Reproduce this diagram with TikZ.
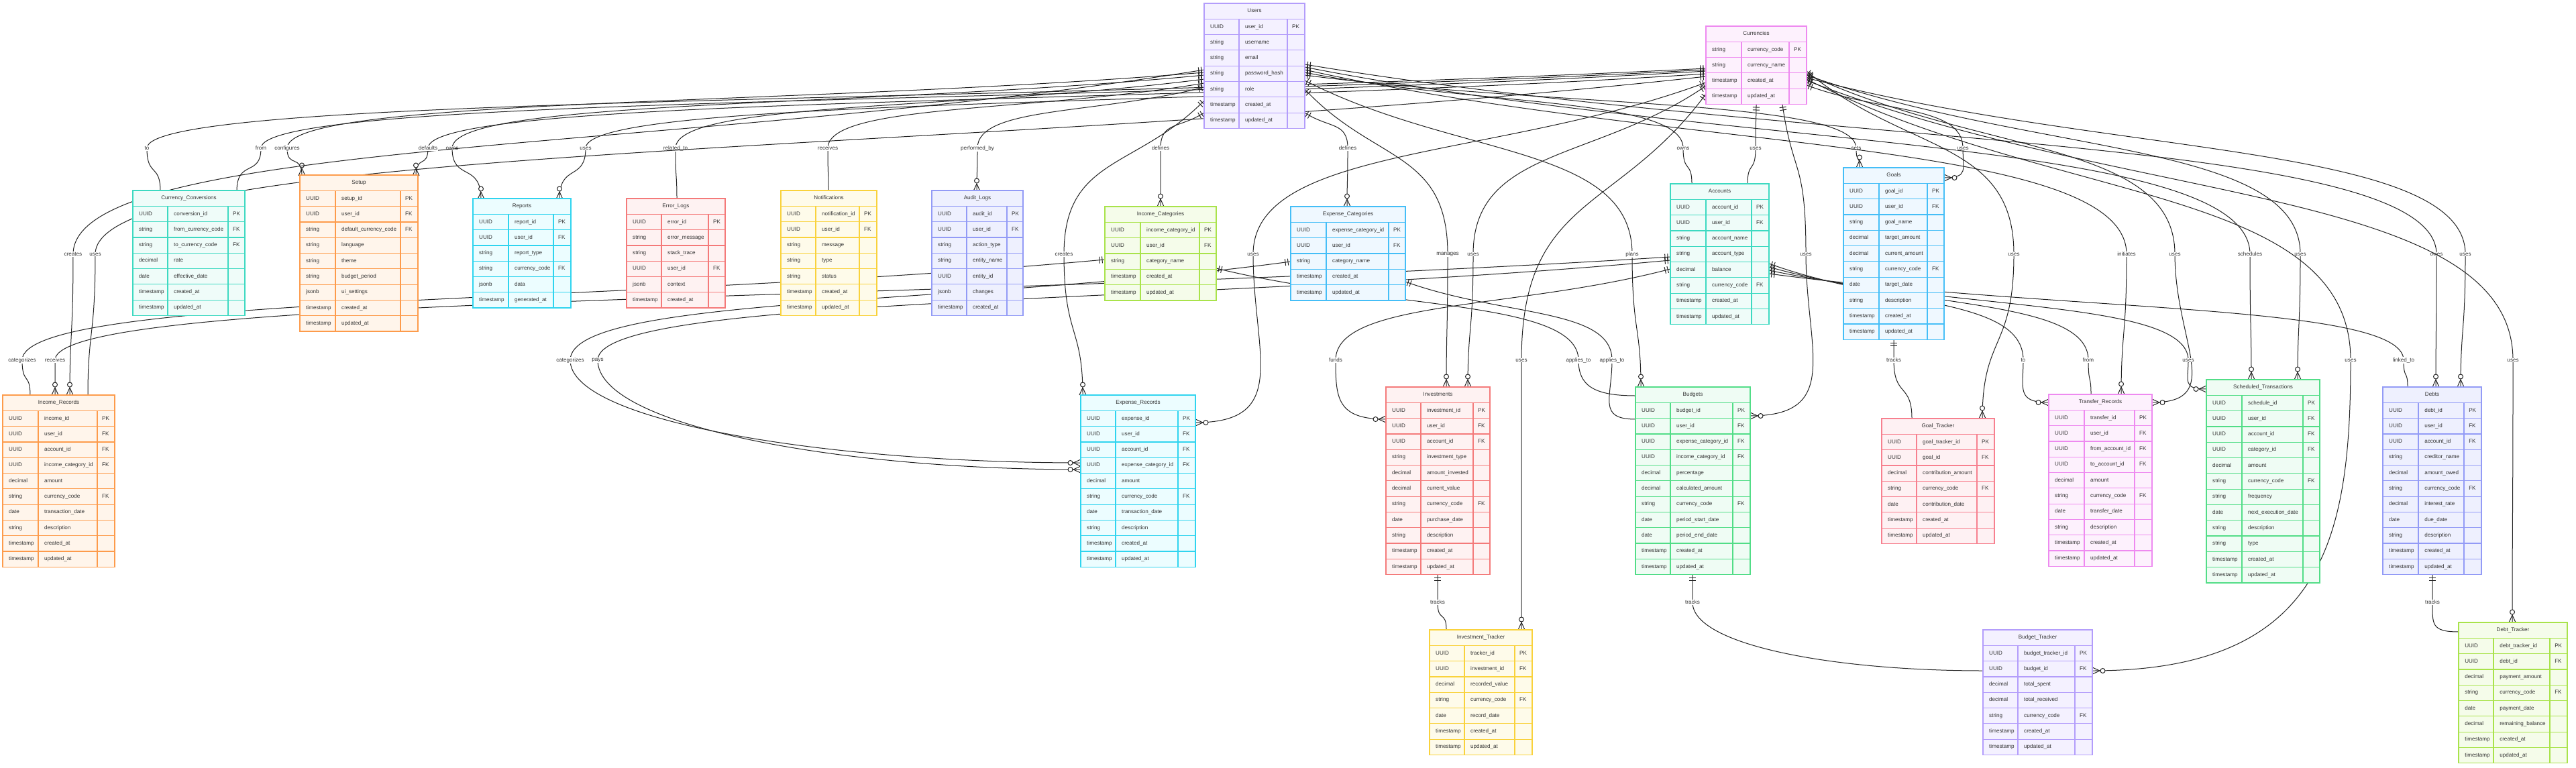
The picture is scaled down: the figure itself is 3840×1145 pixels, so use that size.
\documentclass[tikz,border=0pt]{standalone}
\usepackage{fontspec}
\setmainfont{Liberation Sans}
\usetikzlibrary{calc,decorations.markings}
\definecolor{txt}{HTML}{333333}
\definecolor{edgec}{HTML}{222222}
\definecolor{cpur}{HTML}{B39DFB}\definecolor{cpurbg}{HTML}{F4F1FF}
\definecolor{cmag}{HTML}{EE8AF0}\definecolor{cmagbg}{HTML}{FDF1FD}
\definecolor{ctea}{HTML}{3DD9C1}\definecolor{cteabg}{HTML}{EFFCF9}
\definecolor{corg}{HTML}{FD9B4B}\definecolor{corgbg}{HTML}{FFF5EB}
\definecolor{ccya}{HTML}{2FD4EF}\definecolor{ccyabg}{HTML}{ECFDFF}
\definecolor{crdd}{HTML}{F47A7A}\definecolor{crddbg}{HTML}{FEF2F2}
\definecolor{cyel}{HTML}{F9D23C}\definecolor{cyelbg}{HTML}{FEFBEA}
\definecolor{cind}{HTML}{939BF6}\definecolor{cindbg}{HTML}{EEF0FE}
\definecolor{clim}{HTML}{A9E34B}\definecolor{climbg}{HTML}{F5FCEA}
\definecolor{csky}{HTML}{45BEF7}\definecolor{cskybg}{HTML}{EFF8FF}
\definecolor{cgrn}{HTML}{52DD87}\definecolor{cgrnbg}{HTML}{EFFCF4}
\definecolor{cpnk}{HTML}{F7808F}\definecolor{cpnkbg}{HTML}{FEF1F3}
\tikzset{
  tbox/.style={inner sep=0pt, outer sep=0pt, anchor=north west},
  cell/.style={anchor=west, inner sep=0pt, text=txt, font=\fontsize{8.1pt}{9pt}\selectfont, text height=5.9pt, text depth=1.7pt},
  lbl/.style={fill=white, inner sep=1.2pt, text=txt, font=\fontsize{8.1pt}{9pt}\selectfont},
  relline/.style={line width=1pt, draw=edgec, postaction={decorate}, decoration={markings,
    mark=at position 4pt with {\draw[line width=1pt,edgec] (0pt,-5pt)--(0pt,5pt);},
    mark=at position 8pt with {\draw[line width=1pt,edgec] (0pt,-5pt)--(0pt,5pt);},
    mark=at position 1 with {\draw[line width=1pt,edgec] (-11pt,0pt)--(0pt,5pt) (-11pt,0pt)--(0pt,-5pt);
      \draw[line width=1pt,edgec,fill=white] (-15.5pt,0pt) circle[radius=3.5pt];}}}
}
\newcommand\ertable[9]{%
  \foreach \ty/\nm/\ky [count=\i] in {#9} {\xdef\nrows{\i}}%
  \pgfmathsetlengthmacro\ertw{#5-#2}%
  \pgfmathsetlengthmacro\erth{(\nrows+1)*23.3}%
  \node[tbox, fill=#7bg, minimum width=\ertw, minimum height=\erth] (#1) at (#2,-#6) {};
  \foreach \k in {1,...,\nrows} {\draw[#7, line width=1.2pt] (#2,{-#6-\k*23.3}) -- (#5,{-#6-\k*23.3});}
  \pgfmathsetmacro\erya{-#6-23.3}%
  \pgfmathsetmacro\eryb{-#6-(\nrows+1)*23.3}%
  \draw[#7, line width=1.2pt] (#3,\erya) -- (#3,\eryb) (#4,\erya) -- (#4,\eryb);
  \node[cell, anchor=center] (#1-h) at ({(#2+#5)/2},{-#6-11.65}) {#8};
  \foreach \ty/\nm/\ky [count=\i] in {#9} {%
    \node[cell] (#1-\i-a) at ({#2+9},{-#6-(\i+0.5)*23.3}) {\ty};
    \node[cell] (#1-\i-b) at ({#3+9},{-#6-(\i+0.5)*23.3}) {\nm};
    \node[cell] (#1-\i-c) at ({#4+7},{-#6-(\i+0.5)*23.3}) {\ky};
  }%
  \draw[#7, line width=1.5pt] (#1.north west) rectangle (#1.south east);
}
% #1 id, #2 source point, #3 source side angle, #4 label point, #5 label, #6 target point, #7 target approach angle
\newcommand\erel[7]{%
  \coordinate (#1s) at (#2);
  \coordinate (#1l) at (#4);
  \coordinate (#1t) at (#6);
  \coordinate (#1a) at ($(#1s)+(#3:14)$);
  \draw[relline] let \p1=(#1s), \p2=(#1l), \p3=(#1t),
     \n2={0.6*abs(\y2-\y1)+8},
     \n3={0.55*abs(\y3-\y2)+8},
     \n4={0.4*abs(\x3-\x2)+0.4*abs(\y3-\y2)+8}
   in (#1s) .. controls ($(#1a)!0.45!(#1l)$) and ($(#1l)+(0,\n2)$) .. (#1l)
      .. controls ($(#1l)+(0,-\n3)$) and ($(#1t)+(#7:\n4)$) .. (#1t);
  \node[lbl] (#1) at (#1l) {#5};
}
\begin{document}
\begin{tikzpicture}[x=1pt,y=1pt]
\fill[white] (0,0) rectangle (3840,-1145);
\useasboundingbox (0,0) rectangle (3840,-1145);
% ---------- relationships ----------
\erel{u1}{1795,-108}{180}{428,-221}{configures}{450,-262}{90}
\erel{u2}{1795,-112}{180}{674,-221}{owns}{717,-297}{90}
\erel{u3}{1795,-118}{180}{1007,-221}{related\_to}{1009,-297}{90}
\erel{u4}{1795,-124}{180}{1234,-221}{receives}{1235,-285}{90}
\erel{u5}{1795,-130}{180}{1457,-221}{performed\_by}{1456,-285}{90}
\erel{u6}{1795,-168}{180}{1730,-221}{defines}{1730,-308}{90}
\erel{u7}{1795,-104}{180}{109,-379}{creates}{104,-589}{90}
\erel{u8}{1795,-150}{180}{1586,-379}{creates}{1614,-589}{90}
\erel{u9}{1945,-168}{0}{2009,-221}{defines}{2008,-308}{90}
\erel{u10}{1945,-108}{0}{2509,-221}{owns}{2522,-274}{90}
\erel{u11}{1945,-112}{0}{2767,-221}{sets}{2772,-250}{90}
\erel{u12}{1945,-133}{0}{2158,-379}{manages}{2156,-577}{90}
\erel{u13}{1945,-120}{0}{2433,-379}{plans}{2446,-577}{90}
\erel{u14}{1945,-104}{0}{3170,-379}{initiates}{3162,-588}{90}
\erel{u15}{1945,-100}{0}{3354,-379}{schedules}{3356,-566}{90}
\erel{u16}{1945,-96}{0}{3632,-379}{owes}{3631,-577}{90}
\erel{c1}{2543,-102}{180}{219,-221}{to}{239,-285}{90}
\erel{c2}{2543,-104}{180}{389,-221}{from}{353,-285}{90}
\erel{c3}{2543,-106}{180}{638,-221}{defaults}{620,-262}{90}
\erel{c4}{2543,-110}{180}{873,-221}{uses}{834,-297}{90}
\erel{c5}{2543,-114}{180}{142,-379}{uses}{131,-589}{90}
\erel{c6}{2543,-123}{180}{1868,-379}{uses}{1782,-630}{0}
\erel{c7}{2543,-128}{180}{2196,-379}{uses}{2188,-577}{90}
\erel{c8}{2543,-140}{180}{2268,-537}{uses}{2268,-939}{90}
\erel{c9}{2618,-156}{-90}{2617,-221}{uses}{2605,-274}{90}
\erel{c10}{2657,-156}{-90}{2692,-379}{uses}{2609,-620}{0}
\erel{c11}{2693,-127}{0}{2926,-221}{uses}{2898,-265}{0}
\erel{c12}{2693,-106}{0}{3002,-379}{uses}{2955,-624}{90}
\erel{c13}{2693,-110}{0}{3242,-379}{uses}{3208,-600}{0}
\erel{c14}{2693,-112}{0}{3429,-379}{uses}{3425,-566}{90}
\erel{c15}{2693,-116}{0}{3675,-379}{uses}{3668,-577}{90}
\erel{c16}{2693,-118}{0}{3504,-537}{uses}{3119,-1000}{0}
\erel{c17}{2693,-120}{0}{3746,-537}{uses}{3745,-928}{90}
\erel{a1}{2490,-383}{180}{82,-537}{receives}{82,-589}{90}
\erel{a2}{2490,-388}{180}{891,-537}{pays}{1611,-700}{180}
\erel{a3}{2490,-401}{180}{1991,-537}{funds}{2066,-625}{180}
\erel{a4}{2637,-393}{0}{3016,-537}{to}{3054,-600}{180}
\erel{a5}{2637,-398}{0}{3113,-537}{from}{3117,-588}{90}
\erel{a6}{2637,-403}{0}{3262,-537}{uses}{3289,-580}{180}
\erel{a7}{2637,-408}{0}{3583,-537}{linked\_to}{3589,-577}{90}
\erel{i1}{1647,-387}{180}{33,-537}{categorizes}{45,-589}{90}
\erel{i2}{1813,-400}{0}{2353,-537}{applies\_to}{2438,-590}{180}
\erel{e1}{1924,-390}{180}{850,-537}{categorizes}{1611,-690}{180}
\erel{e2}{2095,-420}{0}{2403,-537}{applies\_to}{2438,-625}{180}
\erel{g1}{2823,-507}{-90}{2823,-537}{tracks}{2850,-624}{90}
\erel{v1}{2143,-857}{-90}{2143,-898}{tracks}{2156,-939}{90}
\erel{b1}{2523,-857}{-90}{2523,-898}{tracks}{2956,-1000}{180}
\erel{d1}{3626,-857}{-90}{3626,-898}{tracks}{3665,-942}{180}
% ---------- tables ----------
\ertable{users}{1795}{1847}{1919}{1945}{5}{cpur}{Users}{UUID/user\_id/PK, string/username/{}, string/email/{}, string/password\_hash/{}, string/role/{}, timestamp/created\_at/{}, timestamp/updated\_at/{}}
\ertable{currencies}{2543}{2596}{2667}{2693}{39}{cmag}{Currencies}{string/currency\_code/PK, string/currency\_name/{}, timestamp/created\_at/{}, timestamp/updated\_at/{}}
\ertable{conv}{198}{250}{340}{365}{284}{ctea}{Currency\_Conversions}{UUID/conversion\_id/PK, string/from\_currency\_code/FK, string/to\_currency\_code/FK, decimal/rate/{}, date/effective\_date/{}, timestamp/created\_at/{}, timestamp/updated\_at/{}}
\ertable{setup}{447}{500}{597}{623}{261}{corg}{Setup}{UUID/setup\_id/PK, UUID/user\_id/FK, string/default\_currency\_code/FK, string/language/{}, string/theme/{}, string/budget\_period/{}, jsonb/ui\_settings/{}, timestamp/created\_at/{}, timestamp/updated\_at/{}}
\ertable{reports}{705}{758}{825}{851}{296}{ccya}{Reports}{UUID/report\_id/PK, UUID/user\_id/FK, string/report\_type/{}, string/currency\_code/FK, jsonb/data/{}, timestamp/generated\_at/{}}
\ertable{errors}{934}{986}{1056}{1081}{296}{crdd}{Error\_Logs}{UUID/error\_id/PK, string/error\_message/{}, string/stack\_trace/{}, UUID/user\_id/FK, jsonb/context/{}, timestamp/created\_at/{}}
\ertable{notif}{1164}{1216}{1281}{1307}{284}{cyel}{Notifications}{UUID/notification\_id/PK, UUID/user\_id/FK, string/message/{}, string/type/{}, string/status/{}, timestamp/created\_at/{}, timestamp/updated\_at/{}}
\ertable{audit}{1389}{1441}{1501}{1525}{284}{cind}{Audit\_Logs}{UUID/audit\_id/PK, UUID/user\_id/FK, string/action\_type/{}, string/entity\_name/{}, UUID/entity\_id/{}, jsonb/changes/{}, timestamp/created\_at/{}}
\ertable{inccat}{1647}{1700}{1788}{1813}{308}{clim}{Income\_Categories}{UUID/income\_category\_id/PK, UUID/user\_id/FK, string/category\_name/{}, timestamp/created\_at/{}, timestamp/updated\_at/{}}
\ertable{expcat}{1924}{1977}{2070}{2095}{308}{csky}{Expense\_Categories}{UUID/expense\_category\_id/PK, UUID/user\_id/FK, string/category\_name/{}, timestamp/created\_at/{}, timestamp/updated\_at/{}}
\ertable{accounts}{2490}{2543}{2611}{2637}{274}{ctea}{Accounts}{UUID/account\_id/PK, UUID/user\_id/FK, string/account\_name/{}, string/account\_type/{}, decimal/balance/{}, string/currency\_code/FK, timestamp/created\_at/{}, timestamp/updated\_at/{}}
\ertable{goals}{2748}{2801}{2873}{2898}{250}{csky}{Goals}{UUID/goal\_id/PK, UUID/user\_id/FK, string/goal\_name/{}, decimal/target\_amount/{}, decimal/current\_amount/{}, string/currency\_code/FK, date/target\_date/{}, string/description/{}, timestamp/created\_at/{}, timestamp/updated\_at/{}}
\ertable{increc}{4}{57}{145}{171}{589}{corg}{Income\_Records}{UUID/income\_id/PK, UUID/user\_id/FK, UUID/account\_id/FK, UUID/income\_category\_id/FK, decimal/amount/{}, string/currency\_code/FK, date/transaction\_date/{}, string/description/{}, timestamp/created\_at/{}, timestamp/updated\_at/{}}
\ertable{exprec}{1611}{1663}{1756}{1782}{589}{ccya}{Expense\_Records}{UUID/expense\_id/PK, UUID/user\_id/FK, UUID/account\_id/FK, UUID/expense\_category\_id/FK, decimal/amount/{}, string/currency\_code/FK, date/transaction\_date/{}, string/description/{}, timestamp/created\_at/{}, timestamp/updated\_at/{}}
\ertable{invest}{2066}{2118}{2196}{2221}{577}{crdd}{Investments}{UUID/investment\_id/PK, UUID/user\_id/FK, UUID/account\_id/FK, string/investment\_type/{}, decimal/amount\_invested/{}, decimal/current\_value/{}, string/currency\_code/FK, date/purchase\_date/{}, string/description/{}, timestamp/created\_at/{}, timestamp/updated\_at/{}}
\ertable{budgets}{2438}{2490}{2583}{2609}{577}{cgrn}{Budgets}{UUID/budget\_id/PK, UUID/user\_id/FK, UUID/expense\_category\_id/FK, UUID/income\_category\_id/FK, decimal/percentage/{}, decimal/calculated\_amount/{}, string/currency\_code/FK, date/period\_start\_date/{}, date/period\_end\_date/{}, timestamp/created\_at/{}, timestamp/updated\_at/{}}
\ertable{goaltr}{2805}{2857}{2947}{2973}{624}{cpnk}{Goal\_Tracker}{UUID/goal\_tracker\_id/PK, UUID/goal\_id/FK, decimal/contribution\_amount/{}, string/currency\_code/FK, date/contribution\_date/{}, timestamp/created\_at/{}, timestamp/updated\_at/{}}
\ertable{transfer}{3054}{3107}{3182}{3208}{588}{cmag}{Transfer\_Records}{UUID/transfer\_id/PK, UUID/user\_id/FK, UUID/from\_account\_id/FK, UUID/to\_account\_id/FK, decimal/amount/{}, string/currency\_code/FK, date/transfer\_date/{}, string/description/{}, timestamp/created\_at/{}, timestamp/updated\_at/{}}
\ertable{sched}{3289}{3342}{3433}{3458}{566}{cgrn}{Scheduled\_Transactions}{UUID/schedule\_id/PK, UUID/user\_id/FK, UUID/account\_id/FK, UUID/category\_id/FK, decimal/amount/{}, string/currency\_code/FK, string/frequency/{}, date/next\_execution\_date/{}, string/description/{}, string/type/{}, timestamp/created\_at/{}, timestamp/updated\_at/{}}
\ertable{debts}{3552}{3605}{3673}{3699}{577}{cind}{Debts}{UUID/debt\_id/PK, UUID/user\_id/FK, UUID/account\_id/FK, string/creditor\_name/{}, decimal/amount\_owed/{}, string/currency\_code/FK, decimal/interest\_rate/{}, date/due\_date/{}, string/description/{}, timestamp/created\_at/{}, timestamp/updated\_at/{}}
\ertable{invtr}{2131}{2183}{2258}{2284}{939}{cyel}{Investment\_Tracker}{UUID/tracker\_id/PK, UUID/investment\_id/FK, decimal/recorded\_value/{}, string/currency\_code/FK, date/record\_date/{}, timestamp/created\_at/{}, timestamp/updated\_at/{}}
\ertable{budtr}{2956}{3008}{3093}{3119}{939}{cpur}{Budget\_Tracker}{UUID/budget\_tracker\_id/PK, UUID/budget\_id/FK, decimal/total\_spent/{}, decimal/total\_received/{}, string/currency\_code/FK, timestamp/created\_at/{}, timestamp/updated\_at/{}}
\ertable{debttr}{3665}{3717}{3801}{3827}{928}{clim}{Debt\_Tracker}{UUID/debt\_tracker\_id/PK, UUID/debt\_id/FK, decimal/payment\_amount/{}, string/currency\_code/FK, date/payment\_date/{}, decimal/remaining\_balance/{}, timestamp/created\_at/{}, timestamp/updated\_at/{}}
\end{tikzpicture}
\end{document}
